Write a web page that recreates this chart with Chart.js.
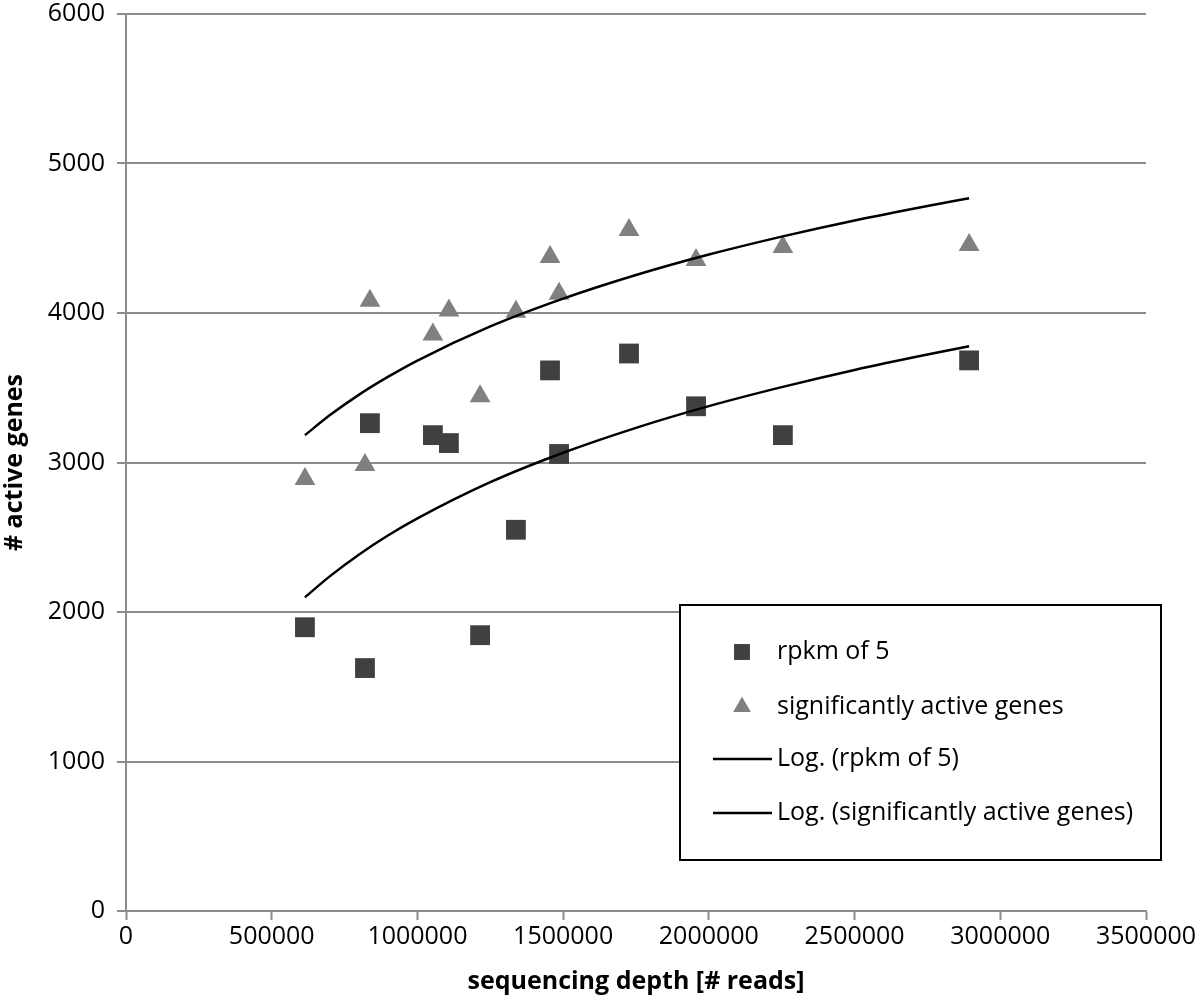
<!DOCTYPE html>
<html>
<head>
<meta charset="utf-8">
<script src="https://cdn.jsdelivr.net/npm/chart.js@4.4.1/dist/chart.umd.min.js"></script>
<style>
  body { margin: 0; background: #fff; }
  #wrap { width: 1200px; height: 997px; position: relative; }
</style>
</head>
<body>
<div id="wrap"><canvas id="grafico"></canvas></div>
<script>
// sequencing depth of each sample
const depth = [614000, 820000, 837000, 1053000, 1108000, 1215000, 1338000, 1455000, 1486000, 1726000, 1956000, 2254000, 2893000];
const rpkm5 = [1898, 1625, 3263, 3183, 3130, 1845, 2550, 3616, 3057, 3729, 3376, 3183, 3683];
const sigActive = [2890, 2983, 4082, 3856, 4016, 3443, 4009, 4375, 4129, 4555, 4355, 4442, 4455];

// log trend lines
const trendDepth = [614000, 700000, 800000, 900000, 1000000, 1250000, 1500000, 1750000, 2000000, 2250000, 2500000, 2750000, 2893000];
const trendRpkm = [2098, 2240, 2385, 2513, 2626, 2868, 3065, 3232, 3377, 3504, 3619, 3722, 3777];
const trendSig = [3183, 3317, 3454, 3574, 3682, 3910, 4096, 4254, 4391, 4511, 4619, 4716, 4768];

const xTicks = [0, 500000, 1000000, 1500000, 2000000, 2500000, 3000000, 3500000];
const yTicks = [0, 1000, 2000, 3000, 4000, 5000, 6000];

const pts = (xs, ys) => xs.map((x, i) => ({ x: x, y: ys[i] }));

const FONT = '"Open Sans", sans-serif';
const GRID = '#8c8c8c';

// legend drawn inside the plot, bottom right, with a black frame
const legendBox = {
  id: 'legendBox',
  afterDraw(chart) {
    const ctx = chart.ctx;
    const area = chart.chartArea;
    const x = area.left + 554, y = area.top + 591, w = 481, h = 255;
    ctx.save();
    ctx.fillStyle = '#fff';
    ctx.fillRect(x, y, w, h);
    ctx.strokeStyle = '#000';
    ctx.lineWidth = 2;
    ctx.strokeRect(x, y, w, h);

    const rows = [47, 102, 154, 208];
    chart.data.datasets.forEach((ds, i) => {
      const cy = y + rows[i];
      const cx = x + 62;
      if (ds.showLine) {
        ctx.strokeStyle = '#000';
        ctx.lineWidth = 2.5;
        ctx.beginPath();
        ctx.moveTo(x + 33, cy);
        ctx.lineTo(x + 92, cy);
        ctx.stroke();
      } else {
        ctx.fillStyle = ds.backgroundColor;
        Chart.helpers.drawPoint(ctx, {
          pointStyle: ds.pointStyle,
          radius: ds.pointStyle === 'rect' ? 11 : 10,
          borderWidth: 0
        }, cx, cy);
        ctx.fill();
      }
      ctx.fillStyle = '#000';
      ctx.font = '25px ' + FONT;
      ctx.textBaseline = 'middle';
      ctx.textAlign = 'left';
      ctx.fillText(ds.label, x + 97, cy);
    });
    ctx.restore();
  }
};

const ctx = document.getElementById('grafico').getContext('2d');
const grafico = new Chart(ctx, {
  type: 'scatter',
  data: {
    datasets: [
      {
        label: 'rpkm of 5',
        data: pts(depth, rpkm5),
        pointStyle: 'rect',
        pointRadius: 14,
        backgroundColor: '#404040',
        borderColor: '#404040',
        borderWidth: 0,
        order: 2
      },
      {
        label: 'significantly active genes',
        data: pts(depth, sigActive),
        pointStyle: 'triangle',
        pointRadius: 12,
        backgroundColor: '#808080',
        borderColor: '#808080',
        borderWidth: 0,
        order: 3
      },
      {
        label: 'Log. (rpkm of 5)',
        data: pts(trendDepth, trendRpkm),
        showLine: true,
        pointRadius: 0,
        borderColor: '#000',
        borderWidth: 2.5,
        cubicInterpolationMode: 'monotone',
        order: 0
      },
      {
        label: 'Log. (significantly active genes)',
        data: pts(trendDepth, trendSig),
        showLine: true,
        pointRadius: 0,
        borderColor: '#000',
        borderWidth: 2.5,
        cubicInterpolationMode: 'monotone',
        order: 1
      }
    ]
  },
  options: {
    responsive: true,
    maintainAspectRatio: false,
    animation: false,
    layout: { padding: { top: 7, right: 54, left: 0, bottom: 0 } },
    plugins: {
      legend: { display: false },
      tooltip: { enabled: false }
    },
    scales: {
      x: {
        type: 'linear',
        min: 0,
        max: 3500000,
        afterBuildTicks: (axis) => { axis.ticks = xTicks.map(v => ({ value: v })); },
        afterFit: (axis) => { axis.height = 86; },
        ticks: {
          color: '#000',
          font: { family: FONT, size: 25 },
          padding: 2,
          maxRotation: 0,
          callback: (v) => String(v)
        },
        grid: {
          drawOnChartArea: false,
          drawTicks: true,
          tickLength: 9,
          tickColor: GRID,
          tickWidth: 2
        },
        border: { color: GRID, width: 2 },
        title: {
          display: true,
          text: 'sequencing depth [# reads]',
          color: '#000',
          font: { family: FONT, size: 25, weight: 'bold' },
          padding: { top: 0, bottom: 0 }
        }
      },
      y: {
        type: 'linear',
        min: 0,
        max: 6000,
        afterBuildTicks: (axis) => { axis.ticks = yTicks.map(v => ({ value: v })); },
        afterFit: (axis) => {
          axis.width = 126;
          axis.paddingTop = 0;
          axis.paddingBottom = 0;
        },
        ticks: {
          color: '#000',
          font: { family: FONT, size: 25 },
          padding: 12,
          callback: (v) => String(v)
        },
        grid: {
          color: GRID,
          lineWidth: 2,
          drawTicks: true,
          tickLength: 9,
          tickColor: GRID,
          tickWidth: 2
        },
        border: { color: GRID, width: 2 },
        title: {
          display: true,
          text: '# active genes',
          color: '#000',
          font: { family: FONT, size: 25, weight: 'bold' },
          padding: { top: 0, bottom: 0 }
        }
      }
    }
  },
  plugins: [legendBox]
});
</script>
</body>
</html>
